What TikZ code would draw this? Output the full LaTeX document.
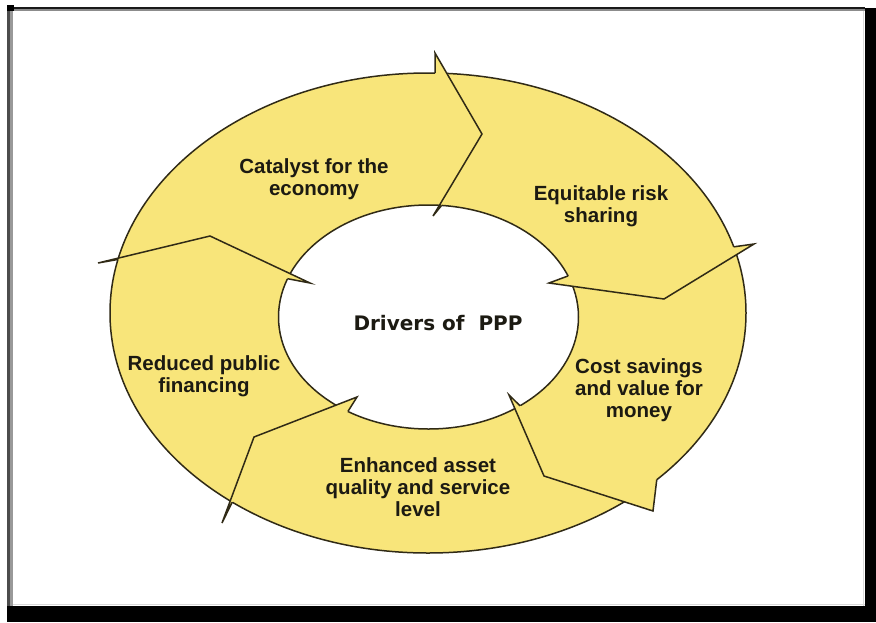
\documentclass[tikz,border=0pt]{standalone}
\usepackage{fontspec}
\setmainfont{Liberation Sans}
\newfontfamily\centrefont{DejaVu Sans}
\usetikzlibrary{calc}

\definecolor{ringfill}{RGB}{248,229,122}
\definecolor{ringline}{RGB}{48,42,22}
\definecolor{labeltext}{RGB}{28,26,18}

\begin{document}
\begin{tikzpicture}[x=1pt,y=-1pt,
  lbl/.style={font=\fontsize{20.5}{22}\selectfont\bfseries, text=labeltext,
              align=center, inner sep=0pt},
  rim/.style={draw=ringline, line width=1.5pt},
  headfill/.style={fill=ringfill},
  chevron/.style={draw=ringline, line width=1.5pt, line join=miter}]

\useasboundingbox (0,0) rectangle (876,622);

% page frame with its dark shadow on the right and bottom
\fill[white] (0,0) rectangle (876,622);
\fill[black] (865,8) rectangle (876,622);
\fill[black] (7,606) rectangle (876,622);
\fill[black!90] (7,6.5) rectangle (865,8.5);
\fill[black!45] (7,8.5) rectangle (865,10.5);
\fill[black!70] (7,6.5) rectangle (9.5,606);
\fill[black!40] (9.5,8.5) rectangle (12.5,606);
\fill[black] (7,5) rectangle (14,11);
\fill[black!15] (12.5,603.5) rectangle (865,605);
\fill[black!15] (862.5,10.5) rectangle (864,606);

% ring geometry: outer and inner ellipses
\coordinate (oc) at (428,313);
\coordinate (ic) at (428.5,317);

% arrow heads: base on the outer ring, outer tip, vertex, inner tip, base on the inner ring
\coordinate (a1ob) at ({428+318*cos(-88.7)},{313+240*sin(-88.7)});
\coordinate (a1ot) at (435,53);
\coordinate (a1v)  at (482,134);
\coordinate (a1it) at (433,216);
\coordinate (a1ib) at ({428.5+150*cos(-85)},{317+112*sin(-85)});

\coordinate (a2ob) at ({428+318*cos(-16)},{313+240*sin(-16)});
\coordinate (a2ot) at (754,244);
\coordinate (a2v)  at (664,299);
\coordinate (a2it) at (549,283);
\coordinate (a2ib) at ({428.5+150*cos(-21.5)},{317+112*sin(-21.5)});

\coordinate (a3ob) at ({428+318*cos(44)},{313+240*sin(44)});
\coordinate (a3ot) at (653,511);
\coordinate (a3v)  at (544,476);
\coordinate (a3it) at (509,395);
\coordinate (a3ib) at ({428.5+150*cos(52.4)},{317+112*sin(52.4)});

\coordinate (a4ib) at ({428.5+150*cos(122.5)},{317+112*sin(122.5)});
\coordinate (a4it) at (357,397);
\coordinate (a4v)  at (254,437);
\coordinate (a4ot) at (222,523);
\coordinate (a4ob) at ({428+318*cos(128)},{313+240*sin(128)});

\coordinate (a5ob) at ({428+318*cos(192.9)},{313+240*sin(192.9)});
\coordinate (a5ot) at (98,263);
\coordinate (a5v)  at (210,236);
\coordinate (a5it) at (310,283);
\coordinate (a5ib) at ({428.5+150*cos(200)},{317+112*sin(200)});

% yellow band
\fill[ringfill, even odd rule]
  (oc) ellipse [x radius=318, y radius=240]
  (ic) ellipse [x radius=150, y radius=112];
\draw[rim] (oc) ellipse [x radius=318, y radius=240];
\draw[rim] (ic) ellipse [x radius=150, y radius=112];

% heads laid over the start of the following arrow
\foreach \h in {1,2,3,4,5}{
  \fill[headfill] (a\h ob) -- (a\h ot) -- (a\h v) -- (a\h it) -- (a\h ib) -- cycle;
  \draw[chevron] (a\h ob) -- (a\h ot) -- (a\h v) -- (a\h it) -- (a\h ib);
}

% labels
\node[lbl] (catalyst) at (314,179) {Catalyst for the\\economy};
\node[lbl] (risk) at (601,206) {Equitable risk\\sharing};
\node[lbl] (cost) at (639,390) {Cost savings\\and value for\\money};
\node[lbl] (asset) at (418,487) {Enhanced asset\\quality and service\\level};
\node[lbl] (finance) at (204,376) {Reduced public\\financing};
\node[inner sep=0pt, text=labeltext, font=\centrefont\fontsize{20}{22}\selectfont\bfseries]
  (drivers) at (438,323) {Drivers of\ \ PPP};

\end{tikzpicture}
\end{document}
